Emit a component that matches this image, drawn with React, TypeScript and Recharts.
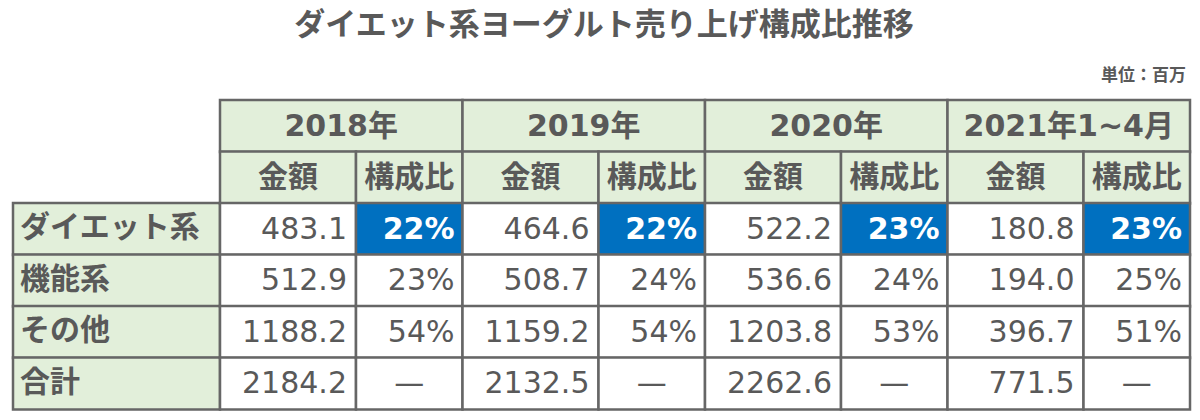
import React from 'react';
import { BarChart, Bar, XAxis, YAxis, Customized } from 'recharts';

// ---- data ----
const title = 'ダイエット系ヨーグルト売り上げ構成比推移';
const unitLabel = '単位：百万';
const years = ['2018年', '2019年', '2020年', '2021年1~4月'];
const subHeaders = ['金額', '構成比'];
const categories = ['ダイエット系', '機能系', 'その他', '合計'];
const dietAmounts = [483.1, 464.6, 522.2, 180.8];
const dietShares = [22, 22, 23, 23];
const functionalAmounts = [512.9, 508.7, 536.6, 194.0];
const functionalShares = [23, 24, 24, 25];
const otherAmounts = [1188.2, 1159.2, 1203.8, 396.7];
const otherShares = [54, 54, 53, 51];
const totalAmounts = [2184.2, 2132.5, 2262.6, 771.5];
const totalShares: (number | null)[] = [null, null, null, null];
const highlightCategory = 'ダイエット系';

// ---- layout / style ----
const LABEL_W = 207;
const AMOUNT_W = 136;
const SHARE_W = 106.5;
const TOTAL_W = LABEL_W + years.length * (AMOUNT_W + SHARE_W);
const BORDER = '#666666';
const HEADER_FILL = '#E2EFDA';
const HIGHLIGHT_FILL = '#0070C0';
const TEXT = '#595959';
const FONT = "'DejaVu Sans', 'Noto Sans CJK JP', sans-serif";
const JP_FONT = "'Noto Sans CJK JP', sans-serif";
const FS = 30;

const amountSeries = [dietAmounts, functionalAmounts, otherAmounts, totalAmounts];
const shareSeries = [dietShares, functionalShares, otherShares, totalShares];

type Row = {
  key: string;
  type: 'year' | 'sub' | 'data';
  label?: string;
  amounts?: number[];
  shares?: (number | null)[];
};

const rows: Row[] = [
  { key: 'h-year', type: 'year' },
  { key: 'h-sub', type: 'sub' },
  ...categories.map((c, i) => ({
    key: c,
    type: 'data' as const,
    label: c,
    amounts: amountSeries[i],
    shares: shareSeries[i],
  })),
];

const NCOLS = 1 + years.length * 2;

const colWidth = (row: Row, j: number) => {
  if (j === 0) return LABEL_W;
  const isAmount = (j - 1) % 2 === 0;
  if (row.type === 'year') return isAmount ? AMOUNT_W + SHARE_W : 0;
  return isAmount ? AMOUNT_W : SHARE_W;
};

const makeShape = (j: number) => (props: any) => {
  const { x, y, width, height, payload } = props;
  const row: Row = payload;
  if (!row) return <g />;
  const cy = y + height / 2;
  const sw = 2.5;
  if (j === 0) {
    if (row.type !== 'data') return <g />;
    return (
      <g>
        <rect x={x} y={y} width={width} height={height} fill={HEADER_FILL} stroke={BORDER} strokeWidth={sw} />
        <text x={x + 7} y={cy + 8} fontFamily={JP_FONT} fontWeight={700} fontSize={FS} fill={TEXT}>
          {row.label}
        </text>
      </g>
    );
  }
  const yi = Math.floor((j - 1) / 2);
  const isAmount = (j - 1) % 2 === 0;
  if (row.type === 'year') {
    if (!isAmount) return <g />;
    return (
      <g>
        <rect x={x} y={y} width={width} height={height} fill={HEADER_FILL} stroke={BORDER} strokeWidth={sw} />
        <text x={x + width / 2} y={cy + 9.5} textAnchor="middle" fontFamily={FONT} fontWeight={700} fontSize={FS} fill={TEXT}>
          {years[yi]}
        </text>
      </g>
    );
  }
  if (row.type === 'sub') {
    return (
      <g>
        <rect x={x} y={y} width={width} height={height} fill={HEADER_FILL} stroke={BORDER} strokeWidth={sw} />
        <text x={x + width / 2} y={cy + 9} textAnchor="middle" fontFamily={JP_FONT} fontWeight={700} fontSize={FS} fill={TEXT}>
          {subHeaders[isAmount ? 0 : 1]}
        </text>
      </g>
    );
  }
  if (isAmount) {
    const v = row.amounts![yi];
    return (
      <g>
        <rect x={x} y={y} width={width} height={height} fill="#FFFFFF" stroke={BORDER} strokeWidth={sw} />
        <text x={x + width - 9} y={cy + 9.5} textAnchor="end" fontFamily={FONT} fontSize={FS} fill={TEXT}>
          {v.toFixed(1)}
        </text>
      </g>
    );
  }
  const s = row.shares![yi];
  const hl = row.label === highlightCategory;
  return (
    <g>
      <rect x={x} y={y} width={width} height={height} fill={hl ? HIGHLIGHT_FILL : '#FFFFFF'} stroke={BORDER} strokeWidth={sw} />
      {s === null ? (
        <text x={x + width / 2} y={cy + 9.5} textAnchor="middle" fontFamily={FONT} fontSize={FS} fill={TEXT}>
          {'—'}
        </text>
      ) : (
        <text
          x={x + width - 8}
          y={cy + 9.5}
          textAnchor="end"
          fontFamily={FONT}
          fontWeight={hl ? 700 : 400}
          fontSize={FS}
          fill={hl ? '#FFFFFF' : TEXT}
        >
          {`${s}%`}
        </text>
      )}
    </g>
  );
};

const TitleLayer = () => (
  <g>
    <text x={604} y={35} textAnchor="middle" fontFamily={JP_FONT} fontWeight={700} fontSize={31} fill={TEXT}>
      {title}
    </text>
    <text x={1186} y={81} textAnchor="end" fontFamily={JP_FONT} fontWeight={700} fontSize={17} fill={TEXT}>
      {unitLabel}
    </text>
  </g>
);

export default function App() {
  const cols = Array.from({ length: NCOLS }, (_, j) => j);
  return (
    <div style={{ position: 'absolute', left: 0, top: 0, width: 1200, height: 420, background: '#fff' }}>
      <BarChart
        width={1200}
        height={420}
        data={rows}
        layout="vertical"
        margin={{ top: 100, right: 1200 - 13 - TOTAL_W, bottom: 11, left: 13 }}
        barCategoryGap={0}
        barGap={0}
      >
        <XAxis type="number" domain={[0, TOTAL_W]} hide />
        <YAxis type="category" dataKey="key" hide width={0} />
        {cols.map((j) => (
          <Bar
            key={j}
            dataKey={(r: Row) => colWidth(r, j)}
            stackId="t"
            isAnimationActive={false}
            shape={makeShape(j)}
          />
        ))}
        <Customized component={TitleLayer} />
      </BarChart>
    </div>
  );
}
